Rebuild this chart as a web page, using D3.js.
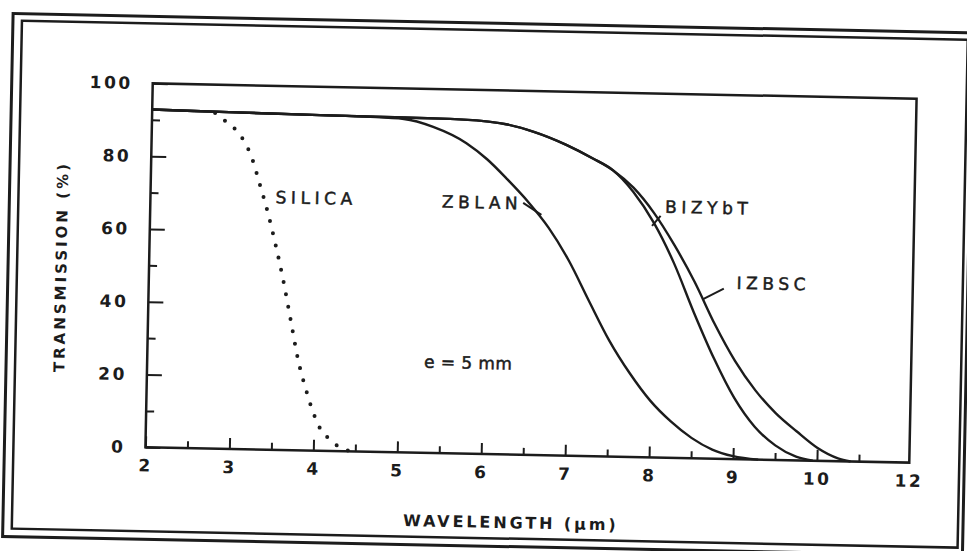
<!DOCTYPE html>
<html>
<head>
<meta charset="utf-8">
<script src="https://cdn.jsdelivr.net/npm/d3@7"></script>
<style>
  html, body { margin: 0; background: #fff; }
  svg { display: block; }
  text { font-family: "DejaVu Sans", sans-serif; fill: #1c1c1c; }
</style>
</head>
<body>
<svg width="967" height="551"></svg>
<script>
// transmission spectra of optical glasses, sample thickness 5 mm
// values are [wavelength (µm), transmission (%)]

const xTicks = [2, 3, 4, 5, 6, 7, 8, 9, 10]
const xTickLabels = ['2', '3', '4', '5', '6', '7', '8', '9', '10']
const xMinorTicks = [2.5, 3.5, 4.5, 5.5, 6.5, 7.5, 8.5, 9.5, 10.5]
const xMax = 11.1          // right edge of the frame, labelled "12" on the original
const xEndLabel = '12'
const yTicks = [0, 20, 40, 60, 80, 100]
const yMinorTicks = [10, 30, 50, 70, 90]

const silica = [
  [2.75, 92.2], [2.9, 89.6], [3.0, 87.7], [3.1, 84.7], [3.2, 80.0], [3.3, 72.8],
  [3.4, 65.3], [3.5, 56.5], [3.6, 46.8], [3.7, 35.7], [3.8, 24.6], [3.9, 16.6],
  [4.0, 9.9], [4.1, 5.2], [4.2, 3.2], [4.3, 1.2], [4.4, 0.3], [4.5, 0]
]

const zblan = [
  [2, 92.8], [3, 92.5], [4, 92.2], [4.6, 92.0], [5.0, 91.6], [5.35, 89.6],
  [5.75, 85.3], [6.0, 81.0], [6.25, 75.5], [6.5, 69.5], [6.75, 62.5], [7.0, 53.5],
  [7.25, 42.5], [7.5, 31.8], [7.75, 23.0], [8.0, 15.6], [8.25, 10.0], [8.5, 5.6],
  [8.75, 2.5], [9.0, 0.8], [9.3, 0]
]

const bizybt = [
  [2, 92.8], [3, 92.5], [4, 92.2], [5, 92.0], [5.55, 91.9], [6.14, 91.0],
  [6.55, 88.8], [6.94, 85.4], [7.26, 81.8], [7.5, 78.7], [7.75, 72.8], [8.0, 64.5],
  [8.25, 53.5], [8.5, 40.0], [8.75, 27.5], [9.0, 16.8], [9.25, 9.0], [9.5, 4.0],
  [9.75, 1.0], [9.95, 0]
]

const izbsc = [
  [2, 92.8], [3, 92.5], [4, 92.2], [5, 92.0], [5.55, 91.9], [6.14, 91.0],
  [6.55, 88.8], [6.94, 85.4], [7.26, 81.8], [7.5, 78.7], [7.75, 74.0], [8.0, 67.2],
  [8.25, 58.5], [8.5, 48.5], [8.75, 37.0], [9.0, 27.0], [9.25, 19.0], [9.5, 12.8],
  [9.75, 8.0], [10.0, 3.6], [10.25, 0.8], [10.4, 0]
]

const ink = '#1c1c1c'

const svg = d3.select('svg')

// the scan is slightly skewed, so the whole sheet is turned a little
const sheet = svg.append('g').attr('transform', 'rotate(1.15,531,273)')

// double border round the figure
sheet.append('rect')
  .attr('x', 8).attr('y', 24).attr('width', 960).attr('height', 523)
  .attr('fill', 'none').attr('stroke', ink).attr('stroke-width', 3)
sheet.append('rect')
  .attr('x', 17).attr('y', 31).attr('width', 946).attr('height', 508)
  .attr('fill', 'none').attr('stroke', ink).attr('stroke-width', 2.5)

const x = d3.scaleLinear().domain([2, xMax]).range([149, 913])
const y = d3.scaleLinear().domain([0, 100]).range([455, 91])

// plot frame
sheet.append('rect')
  .attr('x', x(2)).attr('y', y(100))
  .attr('width', x(xMax) - x(2)).attr('height', y(0) - y(100))
  .attr('fill', 'none').attr('stroke', ink).attr('stroke-width', 2.5)

const styleAxis = g => {
  g.select('.domain').remove()
  g.selectAll('line').attr('stroke', ink).attr('stroke-width', 2)
  g.selectAll('text')
    .attr('fill', ink)
    .style('font-family', '"DejaVu Sans", sans-serif')
    .style('font-size', '17px')
    .style('font-weight', 'bold')
    .style('letter-spacing', '2.5px')
}

// x axis, ticks point inwards
sheet.append('g')
  .attr('transform', `translate(0,${y(0)})`)
  .call(d3.axisBottom(x).tickValues(xTicks).tickSize(-11).tickSizeOuter(0)
    .tickPadding(12).tickFormat((d, i) => xTickLabels[i]))
  .call(styleAxis)

sheet.append('g')
  .attr('transform', `translate(0,${y(0)})`)
  .call(d3.axisBottom(x).tickValues(xMinorTicks).tickSize(-7).tickSizeOuter(0).tickFormat(''))
  .call(styleAxis)

sheet.append('text')
  .attr('x', x(xMax)).attr('y', y(0) + 12)
  .attr('dy', '0.71em').attr('text-anchor', 'middle')
  .style('font-size', '17px').style('font-weight', 'bold').style('letter-spacing', '2.5px')
  .text(xEndLabel)

// y axis
sheet.append('g')
  .attr('transform', `translate(${x(2)},0)`)
  .call(d3.axisLeft(y).tickValues(yTicks).tickSize(-15).tickSizeOuter(0).tickPadding(20))
  .call(styleAxis)

sheet.append('g')
  .attr('transform', `translate(${x(2)},0)`)
  .call(d3.axisLeft(y).tickValues(yMinorTicks).tickSize(-8).tickSizeOuter(0).tickFormat(''))
  .call(styleAxis)

// axis titles
sheet.append('text')
  .attr('transform', `translate(${x(2) - 88},${(y(0) + y(100)) / 2 + 3}) rotate(-90)`)
  .attr('text-anchor', 'middle').attr('dy', '0.35em')
  .style('font-size', '15px').style('font-weight', 'bold').style('letter-spacing', '3px')
  .text('TRANSMISSION (%)')

sheet.append('text')
  .attr('x', x(6.37)).attr('y', y(0) + 68)
  .attr('text-anchor', 'middle').attr('dy', '0.35em')
  .style('font-size', '16px').style('font-weight', 'bold').style('letter-spacing', '2.9px')
  .text('WAVELENGTH (µm)')

// curves
const line = d3.line()
  .x(d => x(d[0]))
  .y(d => y(d[1]))
  .curve(d3.curveMonotoneX)

const curves = sheet.append('g').attr('fill', 'none').attr('stroke', ink)

curves.append('path').datum(zblan).attr('d', line).attr('stroke-width', 2.4)
curves.append('path').datum(bizybt).attr('d', line).attr('stroke-width', 2.4)
curves.append('path').datum(izbsc).attr('d', line).attr('stroke-width', 2.4)

curves.append('path').datum(silica).attr('d', line)
  .attr('stroke-width', 4)
  .attr('stroke-linecap', 'round')
  .attr('stroke-dasharray', '0 12.5')

// labels and leader lines
const label = (wl, t, txt, anchor, spacing) => sheet.append('text')
  .attr('x', x(wl)).attr('y', y(t))
  .attr('dy', '0.35em').attr('text-anchor', anchor || 'start')
  .style('font-size', '17px').style('letter-spacing', (spacing == null ? 4.6 : spacing) + 'px')
  .attr('stroke', ink).attr('stroke-width', 0.5)
  .text(txt)

const leader = (a, b) => sheet.append('line')
  .attr('x1', x(a[0])).attr('y1', y(a[1]))
  .attr('x2', x(b[0])).attr('y2', y(b[1]))
  .attr('stroke', ink).attr('stroke-width', 2)

label(3.49, 69.4, 'SILICA')
label(6.43, 69.1, 'ZBLAN', 'end')
leader([6.44, 69.2], [6.66, 66.0])
label(8.13, 68.9, 'BIZYbT')
leader([8.08, 66.4], [7.98, 63.6])
label(9.0, 48.4, 'IZBSC')
leader([8.85, 46.8], [8.6, 43.7])
label(5.3, 25.0, 'e = 5 mm', 'start', 0.4)
</script>
</body>
</html>
